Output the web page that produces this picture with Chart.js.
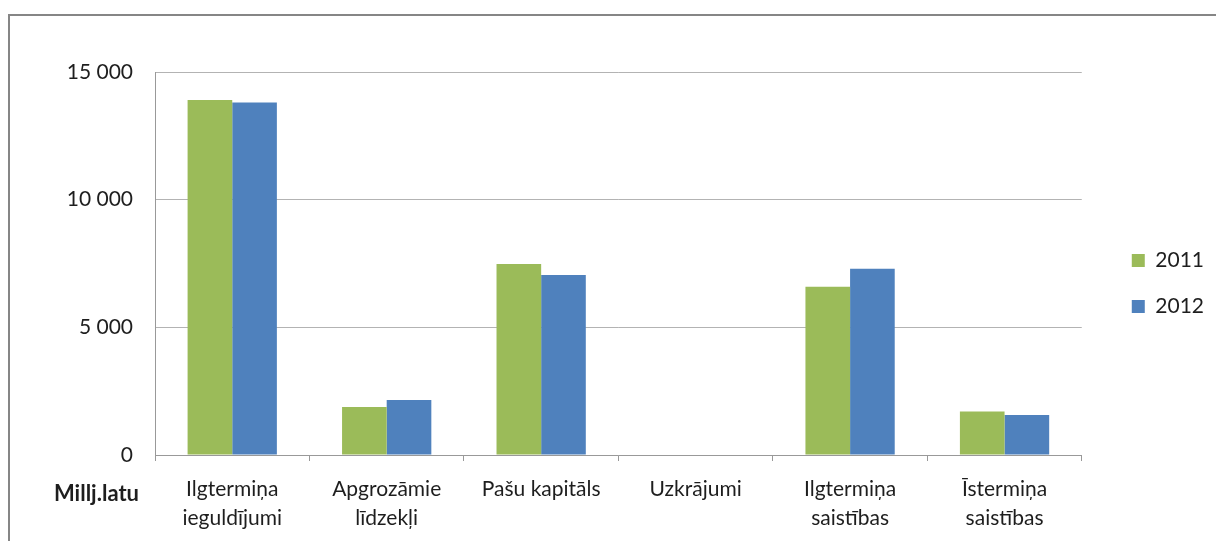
<!DOCTYPE html>
<html>
<head>
<meta charset="utf-8">
<script src="https://cdn.jsdelivr.net/npm/chart.js@4"></script>
<style>
html,body{margin:0;padding:0;background:#fff;overflow:hidden;}
#wrap{position:absolute;left:0;top:0;width:1216px;height:541px;}
#frame{position:absolute;left:8px;top:14px;width:1300px;height:600px;border:2px solid #868686;pointer-events:none;}
</style>
</head>
<body>
<div id="wrap"><canvas id="c"></canvas></div>
<div id="frame"></div>
<script>
const categories = [
  ["Ilgtermiņa", "ieguldījumi"],
  ["Apgrozāmie", "līdzekļi"],
  ["Pašu kapitāls"],
  ["Uzkrājumi"],
  ["Ilgtermiņa", "saistības"],
  ["Īstermiņa", "saistības"]
];
const seriesNames = ["2011", "2012"];
const values2011 = [13900, 1880, 7480, 0, 6590, 1700];
const values2012 = [13810, 2150, 7050, 0, 7290, 1570];
const yTicks = [0, 5000, 10000, 15000];
const unitLabel = "Millj.latu";

const FONT = "Lato";
const TEXT = "#1e1e1e";

function fmt(v){ return String(v).replace(/\B(?=(\d{3})+(?!\d))/g, " "); }

const unitPlugin = {
  id: 'unitLabel',
  afterDraw(chart){
    const ctx = chart.ctx;
    const x = chart.scales.x;
    ctx.save();
    ctx.font = "bold 22px " + FONT;
    ctx.fillStyle = TEXT;
    ctx.textAlign = "right";
    ctx.textBaseline = "middle";
    ctx.fillText(unitLabel, x.left - 16, x.top + 39);
    ctx.restore();
  }
};

new Chart(document.getElementById('c'), {
  type: 'bar',
  data: {
    labels: categories,
    datasets: [
      { label: seriesNames[0], data: values2011, backgroundColor: '#9BBB59', borderWidth: 0 },
      { label: seriesNames[1], data: values2012, backgroundColor: '#4F81BD', borderWidth: 0 }
    ]
  },
  options: {
    responsive: true,
    maintainAspectRatio: false,
    animation: false,
    devicePixelRatio: 1,
    layout: { padding: { top: 72, right: 2, bottom: 6, left: 0 } },
    datasets: { bar: { categoryPercentage: 0.578, barPercentage: 1.0 } },
    plugins: {
      tooltip: { enabled: false },
      legend: {
        position: 'right',
        align: 'start',
        title: { display: true, text: ' ', font: { size: 10, lineHeight: 1.2 }, padding: { top: 70, bottom: 71 } },
        labels: {
          boxWidth: 13, boxHeight: 13, padding: 25,
          color: TEXT,
          font: { family: FONT, size: 21 }
        }
      }
    },
    scales: {
      x: {
        afterFit(s){ s.height = 80; },
        grid: { offset: true, drawOnChartArea: false, drawTicks: true, tickLength: 6, color: '#999' },
        border: { color: '#999', width: 1 },
        ticks: { color: TEXT, font: { family: FONT, size: 21, lineHeight: 1.38 }, padding: 14, maxRotation: 0, autoSkip: false }
      },
      y: {
        min: 0, max: 15000,
        afterBuildTicks(s){ s.ticks = yTicks.map(v => ({ value: v })); },
        afterFit(s){ s.width = 155; },
        grid: { color: '#b3b3b3', drawTicks: false },
        border: { color: '#999', width: 1 },
        ticks: { color: TEXT, font: { family: FONT, size: 21 }, padding: 22, callback: v => fmt(v) }
      },
      gap: {
        position: 'right',
        display: true,
        afterFit(s){ s.width = 25; },
        grid: { display: false, drawTicks: false },
        border: { display: false },
        ticks: { display: false }
      }
    }
  },
  plugins: [unitPlugin]
});
</script>
</body>
</html>
